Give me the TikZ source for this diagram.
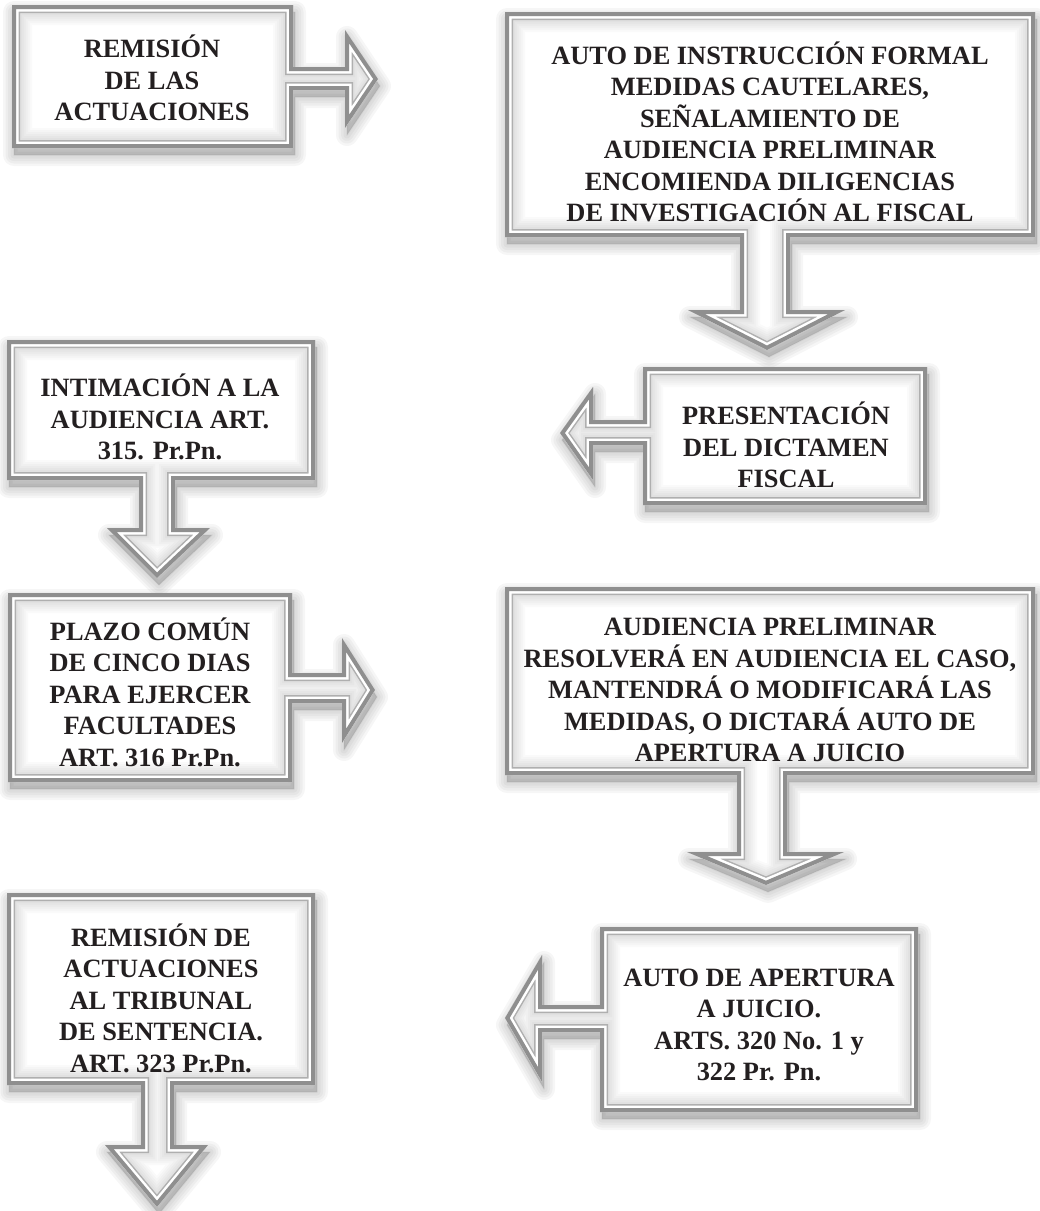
\documentclass[tikz,border=0pt]{standalone}
\usepackage{fontspec}
\setmainfont{Liberation Serif}
\definecolor{outerg}{RGB}{143,143,143}
\definecolor{innerg}{RGB}{175,175,175}
\definecolor{txt}{RGB}{35,31,32}
\newcommand\fancyshape[1]{%
  \begin{scope}[shift={(2,7)}]
    \foreach \w in {22,17,12,7,2}{\filldraw[black,opacity=0.035,line width=\w pt,line join=round] #1;}
  \end{scope}
  \fill[white] #1;
  \begin{scope}
    \clip #1;
    \foreach \w in {40,36,32,28,24,20}{\draw[black,opacity=0.018,line width=\w pt] #1;}
    \draw[line width=16pt, innerg] #1;
    \draw[line width=13pt, white] #1;
    \draw[line width=8pt, outerg] #1;
  \end{scope}}
\tikzset{lbl/.style={font=\fontsize{26.4}{31.5}\selectfont\bfseries, align=center, text=txt, inner sep=0pt}}
\begin{document}
\begin{tikzpicture}[x=1pt,y=-1pt]
\useasboundingbox (0,0) rectangle (1040,1211);
% box 1 with right arrow
\fancyshape{(12,5) -- (293,5) -- (293,67) -- (345,67) -- (345,30) -- (378,79) -- (345,128) -- (345,90) -- (293,90) -- (293,148) -- (12,148) -- cycle}
% box 2 with down arrow
\fancyshape{(505,12) -- (1035,12) -- (1035,237) -- (790,237) -- (790,310) -- (845,310) -- (767,350) -- (688,310) -- (740,310) -- (740,237) -- (505,237) -- cycle}
% box 3 with left arrow
\fancyshape{(643,367) -- (927,367) -- (927,505) -- (643,505) -- (643,445) -- (593,445) -- (593,480) -- (560,433) -- (593,387) -- (593,420) -- (643,420) -- cycle}
% box 4 with down arrow
\fancyshape{(7,340) -- (315,340) -- (315,480) -- (175,480) -- (175,528) -- (210,528) -- (157,578) -- (107,528) -- (139,528) -- (139,480) -- (7,480) -- cycle}
% box 5 with right arrow
\fancyshape{(8,593) -- (292,593) -- (292,673) -- (342,673) -- (342,638) -- (375,690) -- (342,743) -- (342,703) -- (292,703) -- (292,782) -- (8,782) -- cycle}
% box 6 with down arrow
\fancyshape{(505,587) -- (1035,587) -- (1035,775) -- (787,775) -- (787,852) -- (844,852) -- (766,885) -- (687,852) -- (737,852) -- (737,775) -- (505,775) -- cycle}
% box 7 with left arrow
\fancyshape{(600,927) -- (918,927) -- (918,1112) -- (600,1112) -- (600,1032) -- (542,1032) -- (542,1082) -- (505,1018) -- (542,955) -- (542,1005) -- (600,1005) -- cycle}
% box 8 with down arrow
\fancyshape{(7,893) -- (315,893) -- (315,1085) -- (174,1085) -- (174,1145) -- (208,1145) -- (157,1207) -- (105,1145) -- (141,1145) -- (141,1085) -- (7,1085) -- cycle}
% texts
\node[lbl] (t1) at (152,78) {REMISIÓN\\DE LAS\\ACTUACIONES};
\node[lbl] (t2) at (770,132) {AUTO DE INSTRUCCIÓN FORMAL\\MEDIDAS CAUTELARES,\\SEÑALAMIENTO DE\\AUDIENCIA PRELIMINAR\\ENCOMIENDA DILIGENCIAS\\DE INVESTIGACIÓN AL FISCAL};
\node[lbl] (t3) at (786,445) {PRESENTACIÓN\\DEL DICTAMEN\\FISCAL};
\node[lbl] (t4) at (160,417) {INTIMACIÓN A LA\\AUDIENCIA ART.\\315. Pr.Pn.};
\node[lbl] (t5) at (150,692) {PLAZO COMÚN\\DE CINCO DIAS\\PARA EJERCER\\FACULTADES\\ART. 316 Pr.Pn.};
\node[lbl] (t6) at (770,690) {AUDIENCIA PRELIMINAR\\RESOLVERÁ EN AUDIENCIA EL CASO,\\MANTENDRÁ O MODIFICARÁ LAS\\MEDIDAS, O DICTARÁ AUTO DE\\APERTURA A JUICIO};
\node[lbl] (t7) at (759,1025) {AUTO DE APERTURA\\A JUICIO.\\ARTS. 320 No. 1 y\\322 Pr. Pn.};
\node[lbl] (t8) at (161,998) {REMISIÓN DE\\ACTUACIONES\\AL TRIBUNAL\\DE SENTENCIA.\\ART. 323 Pr.Pn.};
\end{tikzpicture}
\end{document}
